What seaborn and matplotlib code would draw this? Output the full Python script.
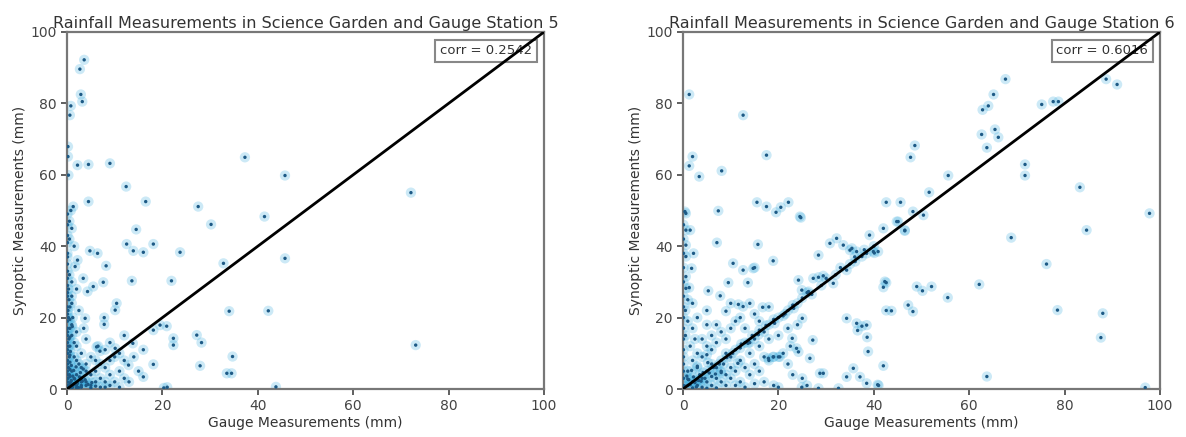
import seaborn as sns
from matplotlib import pyplot as plt

# station 5: gauge (x) vs synoptic (y)
gauge5 = [3.6, 2.7, 2.9, 3.2, 0.8, 0.6, 0.2, 0.2, 2.2, 4.5,
          9.0, 0.3, 37.3, 45.7, 12.4, 4.5, 16.5, 27.5, 1.3, 0.8,
          41.4, 30.2, 14.5, 45.7, 12.5, 13.9, 16.0, 18.1, 23.7, 4.8,
          6.4, 8.2, 2.2, 1.7, 32.8, 3.4, 5.5, 4.3, 7.6, 13.6,
          21.9, 10.4, 10.1, 3.8, 7.8, 7.8, 34.0, 42.2, 18.1, 19.5,
          20.9, 22.3, 22.3, 27.2, 28.2, 13.8, 34.7, 27.9, 18.1, 33.5,
          34.5, 43.8, 20.3, 21.0, 16.0, 12.9, 73.1, 72.1, 10.1, 6.2,
          6.9,
          1, 2, 3, 1.5, 2, 3, 4, 5, 6, 5,
          4, 6, 7, 8, 9, 8, 7, 9, 10, 6,
          5, 4, 3, 2, 11, 12, 10, 9, 7, 5,
          3, 12, 11, 8, 6.5, 3, 2, 4, 1, 2,
          3.5, 1, 2.5, 1, 1, 2, 1, 0.5, 1.5, 0.5,
          1, 0.5, 0.3, 0.3, 0.5, 0.3, 0.2, 0.4, 0.2, 0.4,
          0.3, 1.2, 1.5, 2.5, 1, 0.2, 0.5, 1, 2, 1.5,
          4, 6, 8, 0.8, 0.5, 1.5, 14, 16, 12, 9,
          15, 11, 13,
          0.1, 0.1, 0.1, 0.1, 0.1, 0.1, 0.1, 0.1, 0.1, 0.1,
          0.1, 0.1, 0.1, 0.1, 0.1, 0.1, 0.1, 0.1, 0.1, 0.1,
          0.1, 0.1, 0.1, 0.1, 0.1, 0.1, 0.1,
          0.6, 0.6, 0.6, 0.6, 0.6, 0.6, 0.6, 0.6, 0.6, 0.6,
          1.2, 1.8, 2.4, 3.0, 0.9, 1.6, 2.2, 3.2, 4.4, 1.2,
          2.6, 3.8, 5.2, 1.4, 2.8, 0.9, 1.9, 3.4, 0.7, 1.1]
synop5 = [92.2, 89.6, 82.5, 80.5, 79.3, 76.7, 67.9, 65.1, 62.7, 62.9,
          63.2, 59.9, 64.9, 59.8, 56.7, 52.5, 52.5, 51.1, 51.1, 50.0,
          48.3, 46.1, 44.7, 36.6, 40.6, 38.7, 38.3, 40.6, 38.3, 38.7,
          38.0, 34.5, 36.1, 34.3, 35.2, 31.0, 28.7, 27.3, 29.9, 30.3,
          30.3, 24.0, 22.1, 19.8, 20.0, 18.1, 21.8, 21.9, 16.5, 17.9,
          17.6, 14.2, 12.3, 15.1, 13.0, 12.8, 9.1, 6.5, 6.9, 4.4,
          4.4, 0.6, 0.3, 0.5, 3.4, 6.7, 12.3, 55.0, 11.4, 11.8,
          10.6,
          1, 1, 2, 3, 4, 3, 2, 1, 2, 4,
          5, 5, 3, 2, 4, 6, 7, 8, 9, 8,
          9, 7, 6, 8, 5, 3, 2, 1, 0.5, 0.3,
          0.5, 8, 10, 11, 12, 10, 12, 14, 15, 16,
          17, 18, 22, 24, 26, 28, 30, 32, 40, 42,
          45, 47, 20, 12, 9, 6, 3, 14, 22, 25,
          28, 20, 13, 7, 5, 0.2, 0.5, 0.2, 0.3, 1.5,
          1, 0.8, 0.5, 2, 4, 9, 9, 11, 15, 13,
          5, 0.5, 2,
          1, 2, 4, 5, 7, 8, 10, 11, 13, 15,
          16, 17, 19, 21, 23, 26, 27, 29, 31, 33,
          35, 37, 38, 41, 43, 46, 49,
          1.5, 3.5, 5.5, 7.5, 9.5, 12, 14.5, 17, 19.5, 23,
          0.6, 1.2, 0.4, 1.0, 2.4, 2.8, 1.6, 2.2, 1.3, 3.6,
          3.4, 2.6, 1.8, 5.2, 4.6, 6.6, 6.2, 5.6, 10.5, 17.5]

# station 6
gauge6 = [67.6, 65.1, 64.0, 62.8, 75.2, 78.7, 77.6, 88.7, 91.0, 65.4,
          66.1, 62.6, 63.7, 48.6, 47.7, 55.6, 71.7, 71.7, 51.6, 42.6,
          45.6, 83.2, 97.8, 84.6, 68.8, 76.2, 45.1, 46.5, 42.0, 50.4,
          48.2, 62.1, 49.0, 50.2, 52.1, 55.5, 42.6, 42.0, 43.7, 42.6,
          47.2, 48.2, 78.5, 88.0, 87.6, 42.0, 63.7, 41.0, 96.9,
          1.3, 12.6, 2.0, 1.3, 3.4, 8.1, 17.5, 15.5, 17.5, 19.5,
          20.5, 22.1, 7.4, 0.4, 24.5, 7.1, 15.7, 18.9, 10.5, 12.6,
          15.0, 9.5, 13.6, 5.3, 7.8, 1.3, 9.0, 11.6, 12.6, 16.7,
          25.0, 28.4, 30.8, 32.2, 33.6, 35.0, 36.4, 38.5, 40.1, 39.1,
          42.3, 34.3, 36.4, 37.5, 38.5, 36.6, 38.6, 38.8, 35.7, 37.1,
          38.5, 34.3, 40.8, 28.7, 29.4, 27.2, 23.8, 24.2, 22.9, 22.5,
          18.9, 20.3, 17.9, 26.6, 32.6, 28.4, 24.9, 24.2, 27.3, 28.4,
          29.4, 31.5, 24.9, 26.3, 34.3, 36.1, 37.5, 35.4, 39.9, 40.9,
          44.8, 46.5, 2.2, 1.8, 0.6, 0.6, 0.6, 1.5, 0.6, 0.6,
          0.6, 24.7, 14.7,
          1, 2, 3, 3.5, 4, 5, 5.5, 6, 7, 8,
          8.5, 9, 10, 11, 12, 13, 14, 14.5, 15, 16,
          17, 18, 19, 20, 21, 22, 23, 24, 25, 26,
          27, 29, 30, 32, 33, 35, 36, 38, 40,
          1, 2, 1.5, 3, 4, 2, 5, 6, 7, 3,
          5, 2, 8, 10, 9, 11, 12, 4, 6, 1,
          0.5, 0.5, 1, 2.5, 3, 7, 13, 15, 16, 14,
          18, 10, 5,
          3, 4, 5, 6, 7, 8, 9, 10, 11, 12,
          13, 14, 15, 16, 17, 18, 19, 20, 21, 22,
          12, 10, 8, 6, 9, 11, 13, 15, 17, 19,
          20, 23, 25, 26, 14, 16, 18, 20, 22, 24,
          7, 5, 2,
          0.1, 0.1, 0.1, 0.1, 0.1, 0.1, 0.1, 0.1, 0.1, 0.1,
          0.1, 0.1, 0.1, 0.1, 0.1, 0.1,
          0.5, 1.5, 2.5, 1.2, 3.3, 0.8, 2.2, 4.2, 1.8, 3.8,
          6.4, 5.2, 7.6, 4.6, 9.2, 2.8, 6.8, 10.4, 12.2, 13.6,
          15.8, 17.4, 19.2, 21.4, 23.2, 1.0, 3.0, 5.0, 8.0, 11.5]
synop6 = [86.8, 82.5, 79.3, 78.2, 79.7, 80.5, 80.5, 86.8, 85.3, 72.7,
          70.5, 71.3, 67.6, 68.2, 64.9, 59.8, 62.9, 59.8, 55.1, 52.3,
          52.3, 56.5, 49.2, 44.5, 42.4, 35.0, 46.9, 44.3, 45.0, 48.7,
          49.7, 29.3, 28.7, 27.5, 28.7, 25.6, 29.8, 28.5, 21.9, 22.0,
          23.5, 21.7, 22.1, 21.2, 14.4, 6.5, 3.5, 1.0, 0.4,
          82.5, 76.7, 65.1, 62.5, 59.5, 61.1, 65.5, 52.3, 51.1, 49.5,
          50.9, 52.3, 49.9, 49.7, 48.3, 41.0, 40.5, 35.9, 35.2, 33.3,
          34.0, 29.8, 29.8, 27.5, 26.1, 28.4, 21.8, 23.7, 23.1, 22.9,
          19.8, 37.5, 40.8, 42.2, 40.3, 38.9, 38.5, 38.0, 38.1, 43.1,
          30.1, 19.8, 18.4, 17.6, 17.9, 16.4, 14.5, 10.5, 5.8, 3.4,
          1.6, 3.4, 1.2, 4.4, 4.4, 13.7, 11.4, 10.4, 14.2, 12.0,
          9.0, 9.0, 8.6, 8.6, 0.2, 0.2, 0.5, 30.5, 31.0, 31.3,
          31.7, 29.6, 27.7, 27.3, 33.3, 35.7, 37.1, 39.4, 38.5, 38.5,
          46.9, 44.5, 38.0, 33.8, 37.1, 40.3, 44.5, 44.5, 49.2, 31.5,
          28.2, 48.0, 33.8,
          1, 2, 2.5, 4, 3, 5, 4.5, 7, 6, 8,
          7, 10, 9, 11, 11.5, 13, 13, 15, 14, 16.5,
          16, 18, 19.5, 20, 20.5, 22, 23.5, 24, 25.5, 27,
          26.5, 29, 31, 32, 34, 35, 37, 39, 40,
          5, 8, 12, 10, 14, 17, 12, 15, 18, 20,
          22, 24, 16, 17, 14, 19, 20, 9, 11, 19,
          15, 22, 25, 14, 6, 13, 17, 21, 19, 24,
          23, 24, 18,
          1, 0.5, 2, 1, 3, 2, 4, 3, 5, 2,
          6, 4, 7, 5, 9, 8, 9, 9, 10, 7,
          8, 6, 5, 3.5, 1, 1, 0.5, 1.5, 2, 1,
          0.5, 4, 3, 1, 10, 12, 14, 15, 17, 18,
          0.3, 0.2, 0.3,
          1, 3, 5, 7, 9, 11, 14, 17, 20, 23,
          26, 30, 34, 38, 42, 46,
          0.8, 1.2, 1.8, 2.6, 2.4, 3.6, 3.4, 4.6, 5.2, 2.2,
          6.0, 7.4, 7.0, 3.0, 8.8, 0.6, 4.2, 10.0, 12.6, 12.8,
          15.2, 17.8, 18.4, 21.0, 22.6, 2.8, 6.4, 9.6, 4.6, 7.2]

titles = ["Rainfall Measurements in Science Garden and Gauge Station 5",
          "Rainfall Measurements in Science Garden and Gauge Station 6"]
corr_text = ["corr = 0.2542", "corr = 0.6016"]
diag = [0, 100]
ticks = [0, 20, 40, 60, 80, 100]

sns.set_style("ticks")
plt.rcParams["font.family"] = ["DejaVu Sans"]

fig = plt.figure(figsize=(11.86, 4.37), dpi=100)
ax1 = fig.add_axes([0.0565, 0.1098, 0.4022, 0.817])
ax2 = fig.add_axes([0.5759, 0.1098, 0.4022, 0.817])

for ax, gx, sy, title, ct in zip([ax1, ax2], [gauge5, gauge6], [synop5, synop6],
                                 titles, corr_text):
    # pale cyan halo then a small dark dot, like the blurry markers in the original
    sns.scatterplot(x=gx, y=sy, ax=ax, s=55, color="#2aa6dc", alpha=0.24,
                    edgecolor="none", zorder=2)
    sns.scatterplot(x=gx, y=sy, ax=ax, s=6, color="#1d5a86",
                    edgecolor="none", zorder=3)
    sns.lineplot(x=diag, y=diag, ax=ax, color="black", linewidth=2, zorder=6)
    ax.set_xlim(0, 100)
    ax.set_ylim(0, 100)
    ax.set_xticks(ticks)
    ax.set_yticks(ticks)
    ax.tick_params(labelsize=10, colors="#444444", length=4, width=1.2)
    for sp in ax.spines.values():
        sp.set_color("#777777")
        sp.set_linewidth(1.6)
    ax.set_title(title, fontsize=11.5, color="#333333", pad=3)
    ax.set_xlabel("Gauge Measurements (mm)", fontsize=10, color="#333333", labelpad=2)
    ax.set_ylabel("Synoptic Measurements (mm)", fontsize=10, color="#333333", labelpad=2)
    ax.text(0.975, 0.965, ct, transform=ax.transAxes, ha="right", va="top",
            fontsize=9.5, color="#333333", zorder=5,
            bbox=dict(boxstyle="square,pad=0.35", facecolor="white",
                      edgecolor="#888888", linewidth=1.5))

fig.savefig("out.png", dpi=100)
